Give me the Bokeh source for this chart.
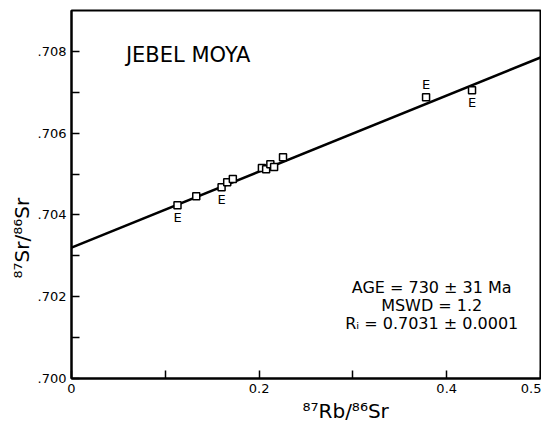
from bokeh.plotting import figure
from bokeh.models import FixedTicker, Range1d, Label, Title
from bokeh.core.properties import value
from bokeh.embed import file_html
from bokeh.resources import INLINE

# Data
rb_sr = [0.113, 0.133, 0.160, 0.166, 0.172, 0.203, 0.2075, 0.212, 0.216, 0.2255, 0.378, 0.427]
sr_sr = [0.70424, 0.70446, 0.70468, 0.7048, 0.70488, 0.70515, 0.70512, 0.70524, 0.70517, 0.70541, 0.70688, 0.70705]
e_flag = ["below", "", "below", "", "", "", "", "", "", "", "above", "below"]

iso_x = [0.0, 0.5]
intercept = 0.7032
slope = 0.0093
iso_y = [intercept + slope * x for x in iso_x]

x_ticks = [0.0, 0.1, 0.2, 0.3, 0.4, 0.5]
x_labels = ["0", "", "0.2", "", "0.4", "0.5"]
y_ticks = [0.700, 0.701, 0.702, 0.703, 0.704, 0.705, 0.706, 0.707, 0.708]
y_labels = [".700", "", ".702", "", ".704", "", ".706", "", ".708"]

FONT = "DejaVu Sans"

p = figure(width=541, height=423, output_backend="svg", toolbar_location=None,
           x_range=Range1d(0, 0.5), y_range=Range1d(0.700, 0.709),
           min_border_left=71, min_border_right=1, min_border_top=10, min_border_bottom=20)
p.grid.visible = False
p.outline_line_color = "black"
p.outline_line_width = 2
p.background_fill_color = "white"
p.border_fill_color = "white"

for ax in (p.xaxis[0], p.yaxis[0]):
    ax.axis_line_width = 2
    ax.axis_line_color = "black"
    ax.major_tick_in = 8
    ax.major_tick_out = 0
    ax.minor_tick_line_color = None
    ax.major_tick_line_width = 1.5
    ax.major_tick_line_color = "black"
    ax.major_label_text_font = FONT
    ax.major_label_text_font_size = "13px"
    ax.major_label_text_color = "black"

p.xaxis.ticker = FixedTicker(ticks=x_ticks)
p.xaxis.major_label_overrides = {t: l for t, l in zip(x_ticks, x_labels)}
p.yaxis.ticker = FixedTicker(ticks=y_ticks)
p.yaxis.major_label_overrides = {t: l for t, l in zip(y_ticks, y_labels)}

# axis titles (off-centre as in the original)
p.add_layout(Title(text="⁸⁷Rb/⁸⁶Sr", text_font=FONT, text_font_size="20px", text_color="black",
                   text_font_style="normal", align="left", offset=231, standoff=2), "below")
p.add_layout(Title(text="⁸⁷Sr/⁸⁶Sr", text_font=FONT, text_font_size="20px", text_color="black",
                   text_font_style="normal", align="left", offset=100, standoff=2), "left")

p.line(iso_x, iso_y, line_color="black", line_width=2.5)
p.scatter(rb_sr, sr_sr, marker="square", size=7, fill_color="white",
          line_color="black", line_width=1.5)

below_x = [x for x, f in zip(rb_sr, e_flag) if f == "below"]
below_y = [y for y, f in zip(sr_sr, e_flag) if f == "below"]
above_x = [x for x, f in zip(rb_sr, e_flag) if f == "above"]
above_y = [y for y, f in zip(sr_sr, e_flag) if f == "above"]
p.text(below_x, below_y, text=["E"] * len(below_x), text_font=value(FONT), text_color="black",
       text_font_size="13px", text_align="center", text_baseline="top", y_offset=5)
p.text(above_x, above_y, text=["E"] * len(above_x), text_font=value(FONT), text_color="black",
       text_font_size="13px", text_align="center", text_baseline="bottom", y_offset=-5)

p.add_layout(Label(x=0.058, y=0.7079, text="JEBEL MOYA", text_font=FONT, text_color="black",
                   text_font_size="21px", text_baseline="middle"))
for txt, yy in [("AGE = 730 ± 31 Ma", 0.70223), ("MSWD = 1.2", 0.70179), ("Rᵢ = 0.7031 ± 0.0001", 0.70135)]:
    p.add_layout(Label(x=0.384, y=yy, text=txt, text_font=FONT, text_color="black",
                       text_font_size="16px", text_align="center", text_baseline="middle"))

open("out.html", "w").write(file_html(p, INLINE))
